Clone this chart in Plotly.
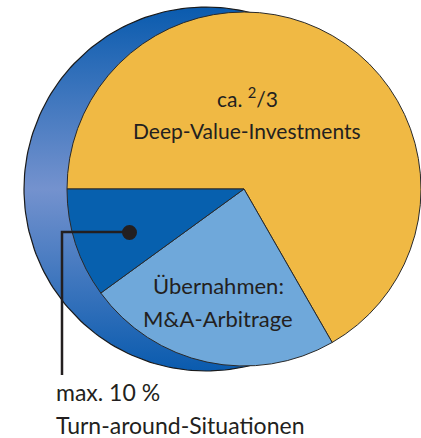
import numpy as np
import plotly.graph_objects as go

W, H = 421, 438

# Anteile der Strategien (Tortenstücke, im Uhrzeigersinn ab 9 Uhr)
labels = ["Deep-Value-Investments", "Übernahmen: M&A-Arbitrage", "Turn-around-Situationen"]
values = [66.7, 23.3, 10.0]
colors = ["#F0B944", "#6FA8DA", "#0760AE"]

TXT = "#231F20"
FONT = "Lato, 'Open Sans', sans-serif"

# Geometrie in Pixeln (Achsen = Pixelkoordinaten)
CX, CY, R = 244, 189, 177      # Vorderseite (Torte)
BX, BY, BR = 206, 189, 182     # Rückseite (Scheibe / Sichel)

fig = go.Figure()

# Rückseite der Scheibe mit vertikalem Verlauf
t = np.linspace(0, 2 * np.pi, 241)
fig.add_trace(go.Scatter(
    x=BX + BR * np.cos(t),
    y=BY + BR * np.sin(t),
    mode="lines",
    fill="toself",
    fillgradient=dict(
        type="vertical",
        colorscale=[[0, "#0A5BAE"], [0.5, "#7492CE"], [1, "#0A5BAE"]],
    ),
    line=dict(color="#1A1A1A", width=1.2),
    hoverinfo="skip",
    showlegend=False,
))

fig.add_trace(go.Pie(
    labels=labels,
    values=values,
    sort=False,
    direction="clockwise",
    rotation=270,
    marker=dict(colors=colors, line=dict(color="#2A2A2A", width=1)),
    textinfo="none",
    hoverinfo="label+percent",
    showlegend=False,
    domain=dict(
        x=[(CX - R) / W, min(1.0, (CX + R) / W)],
        y=[(H - CY - R) / H, (H - CY + R) / H],
    ),
))

# Hinweislinie zum kleinen Stück
fig.add_shape(
    type="path", xref="x", yref="y", layer="above",
    path="M 129 232 L 62 232 L 62 375",
    line=dict(color="#231F20", width=2.5),
)
fig.add_shape(
    type="circle", xref="x", yref="y", layer="above",
    x0=122, y0=225, x1=137, y1=240,
    fillcolor="#231F20", line=dict(width=0),
)

notes = [
    (247, 97, "ca. <sup>2</sup>/3", "center", 21),
    (247, 130, "Deep-Value-Investments", "center", 21),
    (218, 285, "Übernahmen:", "center", 22),
    (218, 318, "M&A-Arbitrage", "center", 22),
    (54, 392, "max. 10 %", "left", 23),
    (54, 425, "Turn-around-Situationen", "left", 23),
]
for x, y, text, anchor, size in notes:
    fig.add_annotation(
        x=x, y=y, xref="x", yref="y", text=text, showarrow=False,
        xanchor=anchor, yanchor="middle",
        font=dict(family=FONT, size=size, color=TXT),
    )

fig.update_layout(
    width=W, height=H,
    margin=dict(l=0, r=0, t=0, b=0),
    paper_bgcolor="white",
    plot_bgcolor="white",
    xaxis=dict(range=[0, W], visible=False, fixedrange=True),
    yaxis=dict(range=[H, 0], visible=False, fixedrange=True),
    showlegend=False,
)

fig.write_html(
    "out.html",
    config={"displayModeBar": False},
    post_script="document.body.style.margin='0';document.body.style.overflow='hidden';",
)
